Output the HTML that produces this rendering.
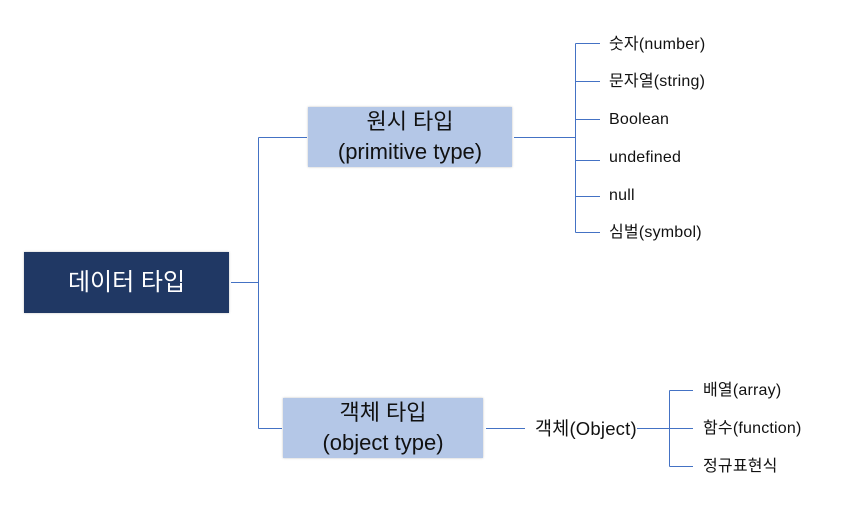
<!DOCTYPE html><html><head><style>
body{margin:0;width:860px;height:524px;background:#fff;position:relative;overflow:hidden;font-family:"Liberation Sans","Noto Sans CJK KR",sans-serif}
.b{position:absolute;display:flex;flex-direction:column;align-items:center;justify-content:center;text-align:center;line-height:30px;box-shadow:0 0 2px rgba(0,0,0,.25)}
.t{position:absolute;font-size:16px;color:#111;line-height:18px;transform:translateY(-50%);letter-spacing:.2px}
</style></head><body>
<svg width="860" height="524" style="position:absolute;left:0;top:0">
<g stroke="#4472c4" stroke-width="1" fill="none">
<path d="M231 282.5H258.5M258.5 137.5V428.5M258.5 137.5H307M258.5 428.5H282"/>
<path d="M514 137.5H575.5M575.5 43.5V232.5"/>
<path d="M575.5 43.5H600M575.5 81.5H600M575.5 119.5H600M575.5 160.5H600M575.5 196.5H600M575.5 232.5H600"/>
<path d="M486 428.5H525M637 428.5H693M669.5 390.5V466.5M669.5 390.5H693M669.5 466.5H693"/>
</g></svg>
<div class="b" style="left:24px;top:252px;width:205px;height:61px;background:#203864;color:#fff;font-size:24px">데이터 타입</div>
<div class="b" style="left:308px;top:107px;width:204px;height:60px;background:#b4c7e7;color:#111;font-size:22px">원시 타입<br>(primitive type)</div>
<div class="b" style="left:283px;top:398px;width:200px;height:60px;background:#b4c7e7;color:#111;font-size:22px">객체 타입<br>(object type)</div>
<div class="t" style="left:609px;top:45px">숫자(number)</div>
<div class="t" style="left:609px;top:82px">문자열(string)</div>
<div class="t" style="left:609px;top:120px">Boolean</div>
<div class="t" style="left:609px;top:158px">undefined</div>
<div class="t" style="left:609px;top:196px">null</div>
<div class="t" style="left:609px;top:233px">심벌(symbol)</div>
<div class="t" style="left:535px;top:429px;font-size:18.5px">객체(Object)</div>
<div class="t" style="left:703px;top:391px">배열(array)</div>
<div class="t" style="left:703px;top:429px">함수(function)</div>
<div class="t" style="left:703px;top:467px">정규표현식</div>
</body></html>
